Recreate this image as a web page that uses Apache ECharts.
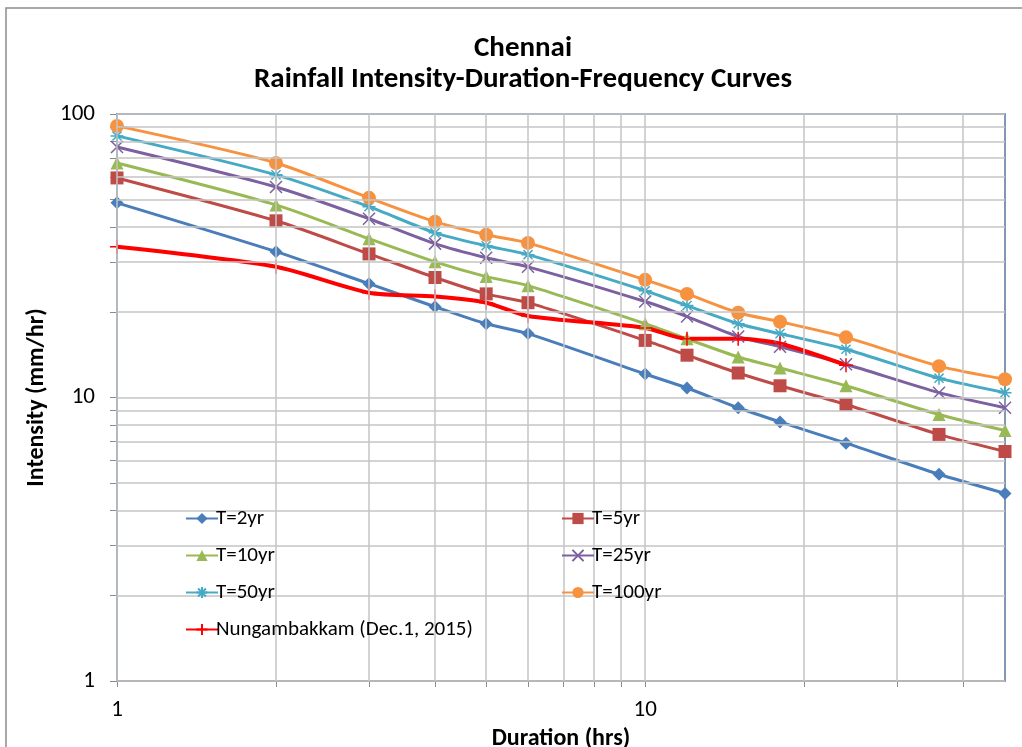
<!DOCTYPE html>
<html><head><meta charset="utf-8">
<script src="https://cdn.jsdelivr.net/npm/echarts@6/dist/echarts.min.js"></script>
<style>html,body{margin:0;padding:0;background:#fff}#c{width:1022px;height:747px}</style>
</head><body><div id="c"></div>
<script>
const durations = [1, 2, 3, 4, 5, 6, 10, 12, 15, 18, 24, 36, 48];
const t2 = [48.6, 32.7, 25.2, 20.9, 18.2, 16.8, 12.1, 10.8, 9.2, 8.2, 6.9, 5.36, 4.59];
const t5 = [59.5, 42.0, 32.1, 26.5, 23.2, 21.6, 15.9, 14.1, 12.2, 11.0, 9.45, 7.41, 6.45];
const t10 = [67.2, 47.8, 36.3, 30.1, 26.7, 24.8, 18.2, 16.1, 13.9, 12.7, 11.0, 8.71, 7.65];
const t25 = [76.5, 55.3, 42.7, 34.9, 31.1, 28.9, 21.8, 19.3, 16.4, 15.1, 13.1, 10.4, 9.2];
const t50 = [83.7, 61.0, 47.1, 38.1, 34.3, 31.9, 23.8, 21.1, 18.2, 16.8, 14.8, 11.7, 10.4];
const t100 = [90.8, 67.2, 50.6, 41.7, 37.5, 35.1, 26.0, 23.2, 19.9, 18.5, 16.3, 12.9, 11.6];
const nungDurations = [1, 2, 3, 4, 5, 6, 10, 12, 15, 18, 24];
const nung = [34.0, 28.9, 23.4, 22.7, 21.6, 19.4, 17.6, 16.1, 16.1, 15.5, 13.0];

const xGridValues = [1, 2, 3, 4, 5, 6, 7, 8, 9, 10, 20, 30, 40];
const yGridValues = [1, 2, 3, 4, 5, 6, 7, 8, 9, 10, 20, 30, 40, 50, 60, 70, 80, 90, 100];
const xLabelValues = [1, 10];
const yLabelValues = [1, 10, 100];

const FONT = 'Carlito, "Liberation Sans", sans-serif';
const pair = (xs, ys) => xs.map((x, i) => [x, ys[i]]);

const chart = echarts.init(document.getElementById('c'), null, {renderer: 'canvas'});

const xMark = 'path://M0,0L10,10M10,0L0,10';
const star = 'path://M5,0L5,10M0,5L10,5M1.5,1.5L8.5,8.5M8.5,1.5L1.5,8.5';
const plus = 'path://M5,0L5,10M0,5L10,5';

function mkSeries(name, data, color, symbol, size, stroke, width) {
  return {
    name, type: 'line', data, smooth: 0.25, symbol, symbolSize: size,
    lineStyle: {color, width: width || 3},
    itemStyle: stroke ? {color: 'none', borderColor: color, borderWidth: 1.5} : {color},
    z: 3, animation: false, emphasis: {disabled: true}
  };
}

const gridLines = [];
xGridValues.forEach(v => gridLines.push({xAxis: v}));
yGridValues.forEach(v => gridLines.push({yAxis: v}));

const legendText = {fontFamily: FONT, fontSize: 21, lineHeight: 21, color: '#000', padding: [0, 0, 0, -7]};

const option = {
  animation: false,
  title: {
    text: 'Chennai\nRainfall Intensity-Duration-Frequency Curves',
    left: 518, textAlign: 'center', top: 28,
    textStyle: {fontFamily: FONT, fontSize: 29, fontWeight: 'bold', color: '#000', lineHeight: 31}
  },
  grid: {left: 117, right: 17, top: 114, bottom: 66, outerBoundsMode: 'none', containLabel: false,
    show: true, borderColor: '#8197B8', borderWidth: 2, backgroundColor: 'transparent'},
  xAxis: {
    type: 'log', logBase: 10, min: 1, max: 48,
    name: 'Duration (hrs)', nameLocation: 'middle', nameGap: 45,
    nameTextStyle: {fontFamily: FONT, fontSize: 24, fontWeight: 'bold', color: '#000'},
    axisLine: {show: true, lineStyle: {color: '#8C8C8C', width: 1.5}},
    axisTick: {show: true, length: 6, lineStyle: {color: '#8C8C8C'}, customValues: xGridValues},
    axisLabel: {fontFamily: FONT, fontSize: 23, color: '#000', margin: 18, customValues: xLabelValues},
    splitLine: {show: false}
  },
  yAxis: {
    type: 'log', logBase: 10, min: 1, max: 100,
    name: 'Intensity (mm/hr)', nameLocation: 'middle', nameGap: 64, nameRotate: 90,
    nameTextStyle: {fontFamily: FONT, fontSize: 24, fontWeight: 'bold', color: '#000'},
    axisLine: {show: true, lineStyle: {color: '#8197B8', width: 2}},
    axisTick: {show: true, length: 7, lineStyle: {color: '#8C8C8C'}, customValues: yGridValues},
    axisLabel: {fontFamily: FONT, fontSize: 23, color: '#000', margin: 22, customValues: yLabelValues},
    splitLine: {show: false}
  },
  legend: [
    {
      data: ['T=2yr', 'T=10yr', 'T=50yr', 'Nungambakkam (Dec.1, 2015)'],
      orient: 'vertical', left: 180, top: 503, itemGap: 16, itemWidth: 32, itemHeight: 14,
      textStyle: legendText, z: 6, selectedMode: false
    },
    {
      data: ['T=5yr', 'T=25yr', 'T=100yr'],
      orient: 'vertical', left: 556, top: 503, itemGap: 16, itemWidth: 32, itemHeight: 14,
      textStyle: legendText, z: 6, selectedMode: false
    }
  ],
  graphic: [
    {type: 'rect', shape: {x: 6, y: 8, width: 1040, height: 760}, style: {fill: 'none', stroke: '#8C8C8C', lineWidth: 1.5}, z: 0, silent: true},
    {type: 'rect', shape: {x: 137, y: 497, width: 758, height: 150}, style: {fill: '#fff'}, z: 5, silent: true}
  ],
  series: [
    {
      type: 'line', data: [], silent: true, z: 1,
      markLine: {silent: true, symbol: 'none', label: {show: false}, animation: false,
        lineStyle: {color: '#C4C4C4', width: 1.5, type: 'solid'}, data: gridLines}
    },
    mkSeries('T=2yr', pair(durations, t2), '#4A7EBB', 'diamond', 13),
    mkSeries('T=5yr', pair(durations, t5), '#BE4B48', 'rect', 13),
    mkSeries('T=10yr', pair(durations, t10), '#98B954', 'triangle', 13),
    mkSeries('T=25yr', pair(durations, t25), '#7D60A0', xMark, 12, true),
    mkSeries('T=50yr', pair(durations, t50), '#46AAC5', star, 13, true),
    mkSeries('T=100yr', pair(durations, t100), '#F69240', 'circle', 14),
    mkSeries('Nungambakkam (Dec.1, 2015)', pair(nungDurations, nung), '#FF0000', plus, 14, true, 4)
  ]
};
chart.setOption(option);
</script></body></html>
